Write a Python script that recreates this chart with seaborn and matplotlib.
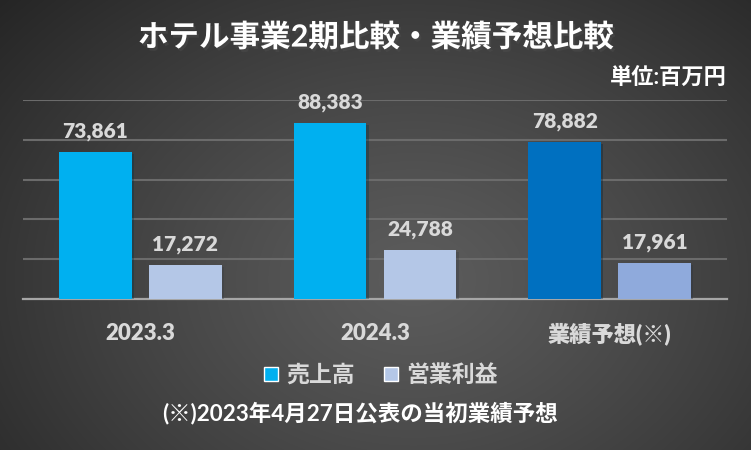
import numpy as np
import pandas as pd
import matplotlib
matplotlib.use("Agg")
import matplotlib.pyplot as plt
import matplotlib.patheffects as pe
from matplotlib.patches import Patch
import seaborn as sns

# ---- data ----
categories = ["2023.3", "2024.3", "業績予想(※)"]
series_names = ["売上高", "営業利益"]
sales = [73861, 88383, 78882]
op_profit = [17272, 24788, 17961]

title = "ホテル事業2期比較・業績予想比較"
unit_text = "単位:百万円"
footnote = "(※)2023年4月27日公表の当初業績予想"

df = pd.DataFrame({
    "period": categories * 2,
    "series": [series_names[0]] * 3 + [series_names[1]] * 3,
    "value": sales + op_profit,
})

sns.set_theme(style="white")
plt.rcParams["font.family"] = ["Lato", "Noto Sans CJK JP", "DejaVu Sans"]

W, H = 751, 450
fig = plt.figure(figsize=(W / 100, H / 100), dpi=100)

# background radial gradient
bg = fig.add_axes([0, 0, 1, 1], zorder=-10)
yy, xx = np.mgrid[0:H, 0:W]
cx, cy = 0.55 * W, 0.62 * H
r = np.sqrt(((xx - cx) / (0.75 * W)) ** 2 + ((yy - cy) / (0.95 * H)) ** 2)
r = np.clip(r, 0, 1)
c0, c1 = 0x5c / 255, 0x24 / 255
g = c0 + (c1 - c0) * r ** 1.2
bg.imshow(np.dstack([g, g, g]), aspect="auto", extent=[0, 1, 0, 1], origin="upper")
bg.axis("off")

ax = fig.add_axes([23 / W, 1 - 299 / H, (727 - 23) / W, (299 - 100) / H])
ax.set_facecolor("none")

c_sales, c_op = "#00B0F0", "#B4C7E7"
c_sales_f, c_op_f = "#0070C0", "#8FAADC"

sns.barplot(data=df, x="period", y="value", hue="series",
            palette=[c_sales, c_op], width=0.767, gap=0.19,
            ax=ax, legend=False, saturation=1)

ax.containers[0][2].set_facecolor(c_sales_f)
ax.containers[1][2].set_facecolor(c_op_f)
for p in ax.patches:
    p.set_edgecolor("none")
    p.set_path_effects([pe.SimplePatchShadow(offset=(1.5, -1.5), alpha=0.35), pe.Normal()])
    p.set_zorder(3)

ax.set_ylim(0, 100000)
ax.set_yticks(np.arange(0, 100001, 20000))
ax.yaxis.grid(True, color="#6b6b6b", lw=1.5, zorder=0)
ax.set_axisbelow(True)
ax.tick_params(axis="y", left=False, labelleft=False)
ax.tick_params(axis="x", bottom=False, pad=11, labelsize=16, labelcolor="#D9D9D9")
for lbl in ax.get_xticklabels():
    lbl.set_fontweight("heavy")
ax.set_xlabel("")
ax.set_ylabel("")
for s in ["top", "left", "right"]:
    ax.spines[s].set_visible(False)
ax.spines["bottom"].set_color("#A6A6A6")
ax.spines["bottom"].set_linewidth(1.6)
ax.set_xlim(-0.5, 2.5)

for cont, vals in zip(ax.containers, [sales, op_profit]):
    ax.bar_label(cont, labels=[f"{v:,}" for v in vals], padding=8,
                 fontsize=15, fontweight="heavy", color="#D9D9D9")

fig.text(0.5, 1 - 37 / H, title, ha="center", va="center", fontsize=22,
         fontweight="bold", color="white",
         path_effects=[pe.SimplePatchShadow(offset=(1.5, -2), alpha=0.5), pe.Normal()])
fig.text(727 / W, 1 - 78 / H, unit_text, ha="right", va="center", fontsize=16,
         fontweight="bold", color="white")

handles = [Patch(facecolor=c_sales, label=series_names[0]),
           Patch(facecolor=c_op, label=series_names[1])]
leg = fig.legend(handles=handles, loc="center", bbox_to_anchor=(381 / W, 1 - 375 / H),
                 ncol=2, frameon=False, fontsize=16.5, handlelength=0.6, handleheight=0.6,
                 handletextpad=0.35, columnspacing=1.3, labelcolor="#D9D9D9")
for t in leg.get_texts():
    t.set_fontweight("bold")

fig.text(360 / W, 1 - 413 / H, footnote, ha="center", va="center", fontsize=16.2,
         fontweight="bold", color="white")

fig.savefig("out.png", dpi=100)
